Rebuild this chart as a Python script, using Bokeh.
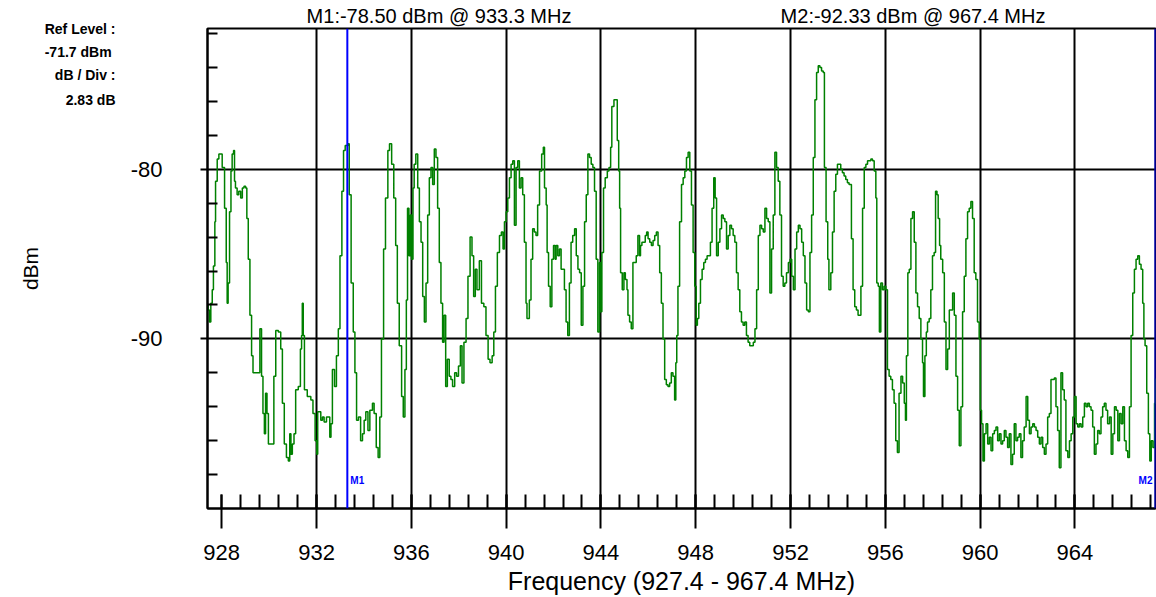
from bokeh.plotting import figure
from bokeh.models import Range1d, FixedTicker, Span, Label, LinearAxis
from bokeh.embed import file_html
from bokeh.resources import INLINE

# ---------------- data ----------------
ref_level_dbm = -71.7
db_per_div = 2.83
n_div = 10
freq_start_mhz = 927.4
freq_stop_mhz = 967.4

x_major_ticks = [928, 932, 936, 940, 944, 948, 952, 956, 960, 964]
x_grid_ticks = [932, 936, 940, 944, 948, 952, 956, 960, 964]
y_major_ticks = [-80, -90]
y_minor_ticks = [-72, -74, -76, -78, -82, -84, -86, -88, -92, -94, -96, -98]

marker_names = ["M1", "M2"]
marker_freq_mhz = [933.3, 967.4]
marker_level_dbm = [-78.50, -92.33]

freq_a = [
    927.40, 927.43, 927.48, 927.54, 927.60, 927.65, 927.71, 927.74, 927.81, 927.88,
    927.95, 928.02, 928.09, 928.12, 928.19, 928.23, 928.27, 928.33, 928.39, 928.44,
    928.50, 928.54, 928.58, 928.65, 928.72, 928.80, 928.87, 928.94, 929.01, 929.06,
    929.12, 929.19, 929.26, 929.32, 929.43, 929.54, 929.61, 929.68, 929.74, 929.80,
    929.85, 929.91, 929.97, 930.06, 930.13, 930.20, 930.28, 930.39, 930.49, 930.56,
    930.64, 930.73, 930.81, 930.87, 930.92, 930.98, 931.05, 931.12, 931.23, 931.32,
    931.37, 931.40, 931.44, 931.49, 931.61, 931.76, 931.85, 931.94, 932.01, 932.05,
    932.18, 932.25, 932.32, 932.42, 932.50, 932.56, 932.61, 932.67, 932.76, 932.84,
    932.92, 932.99, 933.07, 933.14, 933.21, 933.26, 933.33, 933.38, 933.46, 933.55,
    933.62, 933.69, 933.77, 933.86, 933.94, 934.01, 934.08, 934.17, 934.25, 934.36,
    934.43, 934.52, 934.60, 934.67, 934.74, 934.83, 934.91, 935.01, 935.08, 935.17,
    935.26, 935.34, 935.41, 935.49, 935.59, 935.66, 935.73, 935.79, 935.84, 935.90,
    935.96, 936.01, 936.07, 936.12, 936.19, 936.27, 936.34, 936.41, 936.48, 936.55,
    936.62, 936.69, 936.76, 936.83, 936.90, 936.97, 937.04, 937.11, 937.18, 937.25,
    937.32, 937.38, 937.45, 937.52, 937.60, 937.67, 937.74, 937.83, 937.91, 937.99,
    938.07, 938.14, 938.22, 938.31, 938.39, 938.48, 938.56, 938.63, 938.70, 938.77,
    938.87, 938.96, 939.06, 939.15, 939.24, 939.32, 939.41, 939.48, 939.55, 939.63,
    939.72, 939.80, 939.87, 939.93, 940.00, 940.07, 940.14, 940.21, 940.28, 940.35,
    940.42, 940.49, 940.56, 940.63, 940.70, 940.77,
]
level_a = [
    -88.0, -88.3, -89.0, -87.9, -87.1, -85.7, -83.1, -80.7, -79.4, -79.1,
    -79.1, -79.9, -79.9, -82.3, -85.5, -87.9, -86.7, -82.5, -80.1, -79.1,
    -78.9, -80.7, -81.1, -81.5, -81.3, -81.7, -81.1, -81.0, -81.1, -82.9,
    -85.3, -88.6, -91.0, -92.0, -92.0, -92.0, -89.4, -92.2, -94.4, -95.6,
    -93.2, -94.4, -96.2, -96.2, -96.2, -92.2, -89.5, -89.6, -90.6, -93.8,
    -96.2, -97.0, -97.2, -95.6, -96.8, -96.2, -95.6, -93.0, -92.8, -90.6,
    -89.8, -87.9, -89.8, -93.0, -93.4, -93.6, -94.4, -96.0, -96.8, -94.3,
    -94.8, -94.6, -94.9, -94.6, -94.6, -95.8, -95.0, -91.8, -92.8, -91.0,
    -89.4, -85.1, -81.3, -78.9, -78.6, -78.6, -78.5, -81.5, -86.7, -89.6,
    -92.0, -94.8, -94.6, -96.0, -95.6, -94.8, -94.3, -95.4, -94.2, -93.8,
    -94.4, -96.4, -97.0, -94.6, -90.0, -84.7, -81.7, -78.9, -78.5, -79.7,
    -81.7, -84.5, -87.9, -90.4, -93.4, -94.6, -91.8, -87.7, -82.3, -85.1,
    -82.7, -85.3, -81.1, -79.7, -79.1, -81.1, -83.1, -84.3, -87.5, -89.0,
    -86.7, -82.7, -80.5, -79.9, -80.9, -78.8, -79.3, -82.3, -85.5, -87.9,
    -90.2, -88.6, -92.8, -91.2, -92.2, -92.4, -92.8, -92.0, -92.2, -91.6,
    -90.4, -92.6, -90.2, -88.8, -86.3, -84.0, -85.1, -87.5, -85.9, -87.1,
    -85.4, -87.9, -88.1, -89.8, -91.2, -91.4, -91.0, -89.6, -86.9, -84.9,
    -83.9, -83.7, -84.7, -83.1, -82.5, -81.7, -80.5, -79.7, -79.5, -83.3,
    -79.9, -79.5, -81.1, -80.5, -81.5, -84.3,
]

freq_b = [
    940.84, 940.88, 940.94, 940.98, 941.05, 941.12, 941.19, 941.26, 941.33, 941.41,
    941.50, 941.57, 941.62, 941.69, 941.73, 941.79, 941.86, 941.93, 942.00, 942.07,
    942.11, 942.18, 942.25, 942.32, 942.39, 942.46, 942.53, 942.60, 942.67, 942.74,
    942.81, 942.89, 942.96, 943.03, 943.10, 943.17, 943.24, 943.31, 943.38, 943.45,
    943.52, 943.59, 943.66, 943.73, 943.80, 943.87, 943.94, 943.98, 944.04, 944.11,
    944.18, 944.27, 944.34, 944.41, 944.46, 944.55, 944.62, 944.69, 944.75, 944.79,
    944.83, 944.90, 944.97, 945.03, 945.10, 945.14, 945.21, 945.28, 945.35, 945.42,
    945.49, 945.56, 945.63, 945.67, 945.73, 945.82, 945.87, 945.93, 945.99, 946.06,
    946.13, 946.20, 946.27, 946.34, 946.41, 946.48, 946.55, 946.62, 946.69, 946.76,
    946.83, 946.90, 946.97, 947.04, 947.11, 947.16, 947.20, 947.25, 947.32, 947.40,
    947.47, 947.54, 947.61, 947.68, 947.75, 947.82, 947.89, 947.96, 948.02, 948.07,
    948.13, 948.20, 948.27, 948.34, 948.41, 948.48, 948.55, 948.62, 948.69, 948.76,
    948.82, 948.88, 948.95, 949.02, 949.09, 949.16, 949.23, 949.30, 949.37, 949.44,
    949.51, 949.58, 949.65, 949.72, 949.79, 949.86, 949.93, 950.00, 950.07, 950.14,
    950.21, 950.28, 950.36, 950.43, 950.50, 950.57, 950.64, 950.71, 950.78, 950.85,
    950.92, 950.99, 951.06, 951.13, 951.20, 951.27, 951.34, 951.41, 951.48, 951.55,
    951.62, 951.69, 951.76, 951.83, 951.91, 951.98, 952.05, 952.12, 952.19, 952.26,
    952.33, 952.40, 952.47, 952.54, 952.61, 952.68, 952.75, 952.82, 952.89, 952.96,
    953.03, 953.10, 953.17, 953.24, 953.31, 953.38, 953.43, 953.50, 953.57, 953.62,
    953.70, 953.77, 953.84, 953.91, 953.98,
]
level_b = [
    -87.9, -88.8, -88.8, -87.7, -85.3, -83.5, -83.7, -83.9, -82.1, -80.1,
    -79.1, -78.7, -81.1, -82.1, -84.9, -86.9, -88.1, -85.3, -84.5, -85.3,
    -84.5, -85.1, -84.7, -85.9, -85.9, -87.1, -89.0, -89.8, -86.7, -84.3,
    -83.9, -83.5, -85.1, -85.9, -86.1, -89.2, -86.9, -83.1, -81.5, -79.1,
    -79.3, -79.7, -79.9, -81.3, -85.3, -89.6, -85.5, -88.4, -84.9, -81.1,
    -80.5, -80.1, -79.9, -78.7, -76.3, -75.9, -75.9, -78.3, -80.1, -82.3,
    -86.1, -87.1, -86.1, -86.5, -87.1, -88.6, -89.0, -89.4, -85.5, -85.5,
    -85.1, -83.9, -85.1, -84.5, -84.3, -84.3, -83.9, -83.7, -84.1, -84.3,
    -84.5, -84.2, -83.9, -83.7, -84.5, -86.1, -87.9, -90.0, -92.4, -92.7,
    -92.8, -92.6, -92.0, -92.2, -93.6, -91.4, -89.8, -86.9, -83.1, -80.9,
    -80.5, -80.1, -79.3, -79.0, -80.1, -82.1, -84.9, -86.9, -89.2, -88.8,
    -87.9, -86.5, -85.9, -85.5, -85.3, -85.1, -85.1, -84.3, -82.3, -80.5,
    -81.7, -85.1, -84.3, -83.5, -82.7, -82.9, -83.1, -84.7, -83.9, -83.3,
    -83.5, -83.9, -84.3, -86.1, -87.1, -88.4, -89.0, -89.2, -89.0, -89.8,
    -90.2, -90.4, -90.4, -90.2, -89.4, -87.1, -83.9, -83.3, -83.5, -83.7,
    -82.3, -82.9, -83.1, -87.3, -84.7, -82.7, -79.0, -79.9, -80.7, -82.7,
    -86.3, -86.9, -86.7, -86.1, -85.5, -85.3, -86.3, -87.1, -84.7, -83.7,
    -83.3, -83.5, -84.3, -85.1, -86.7, -88.3, -88.4, -84.9, -82.7, -79.3,
    -75.9, -74.3, -73.9, -74.0, -74.2, -74.3, -79.9, -83.1, -85.3, -87.1,
    -86.1, -83.7, -81.3, -80.3, -79.7,
]

freq_c = [
    954.12, 954.19, 954.26, 954.33, 954.40, 954.47, 954.54, 954.57, 954.64, 954.71,
    954.78, 954.85, 954.92, 954.97, 955.04, 955.11, 955.18, 955.25, 955.32, 955.39,
    955.46, 955.53, 955.60, 955.64, 955.70, 955.75, 955.81, 955.88, 955.95, 956.02,
    956.09, 956.16, 956.23, 956.30, 956.37, 956.44, 956.51, 956.58, 956.66, 956.73,
    956.80, 956.85, 956.89, 956.95, 957.01, 957.08, 957.15, 957.22, 957.29, 957.36,
    957.43, 957.50, 957.57, 957.61, 957.67, 957.73, 957.78, 957.85, 957.92, 957.99,
    958.06, 958.12, 958.18, 958.23, 958.29, 958.34, 958.42, 958.49, 958.56, 958.63,
    958.70, 958.77, 958.84, 958.91, 958.98, 959.05, 959.12, 959.19, 959.26, 959.33,
    959.40, 959.47, 959.54, 959.61, 959.68, 959.75, 959.82, 959.89, 959.96, 960.01,
    960.06, 960.12, 960.18, 960.25, 960.32, 960.39, 960.46, 960.53, 960.60, 960.67,
    960.74, 960.81, 960.88, 960.95, 961.02, 961.09, 961.16, 961.23, 961.30, 961.37,
    961.44, 961.51, 961.58, 961.65, 961.72, 961.79, 961.86, 961.94, 962.01, 962.08,
    962.15, 962.22, 962.29, 962.36, 962.43, 962.50, 962.57, 962.64, 962.71, 962.78,
    962.85, 962.92, 962.99, 963.06, 963.13, 963.20, 963.27, 963.34, 963.41, 963.48,
    963.55, 963.62, 963.70, 963.77, 963.84, 963.91, 963.98, 964.05, 964.12, 964.19,
    964.26, 964.33, 964.40, 964.47, 964.54, 964.61, 964.68, 964.75, 964.82, 964.89,
    964.96, 965.03, 965.10, 965.17, 965.24, 965.31, 965.38, 965.46, 965.53, 965.60,
    965.67, 965.74, 965.81, 965.88, 965.95, 966.02, 966.09, 966.16, 966.23, 966.30,
    966.37, 966.44, 966.51, 966.58, 966.65, 966.72, 966.79, 966.86, 966.91, 966.96,
    967.03, 967.10, 967.16, 967.22, 967.29, 967.36, 967.40,
]
level_c = [
    -80.0, -80.2, -80.4, -80.6, -80.8, -80.9, -80.9, -84.1, -87.1, -88.1,
    -88.3, -88.6, -88.6, -86.9, -82.3, -79.9, -79.7, -79.5, -79.5, -79.4,
    -79.5, -80.1, -81.7, -86.7, -86.9, -89.6, -86.7, -87.1, -86.9, -87.1,
    -91.8, -92.2, -92.4, -93.0, -93.8, -96.0, -96.7, -93.2, -92.2, -92.6,
    -93.8, -94.8, -91.0, -86.1, -85.9, -82.9, -82.5, -84.3, -87.3, -88.1,
    -88.8, -90.0, -91.4, -93.4, -91.0, -89.6, -89.0, -88.8, -87.1, -85.1,
    -84.9, -81.3, -81.5, -82.9, -84.5, -85.3, -86.1, -89.0, -91.8, -90.6,
    -88.3, -88.3, -87.3, -88.6, -92.2, -94.2, -96.3, -94.0, -88.4, -86.3,
    -84.1, -82.5, -82.3, -81.9, -82.9, -86.1, -86.5, -89.0, -90.0, -94.2,
    -95.0, -97.2, -95.6, -95.0, -96.2, -95.8, -96.6, -95.6, -95.4, -95.2,
    -96.0, -95.6, -96.2, -96.0, -95.4, -95.8, -96.4, -95.6, -97.4, -96.8,
    -95.0, -96.0, -95.8, -95.6, -97.0, -96.0, -95.2, -93.4, -94.8, -95.6,
    -95.2, -95.0, -95.2, -95.4, -95.8, -96.2, -95.8, -96.4, -96.8, -96.2,
    -94.6, -94.4, -92.4, -92.4, -92.3, -94.0, -95.4, -97.6, -92.0, -93.0,
    -93.6, -96.6, -97.0, -96.0, -95.6, -94.6, -93.4, -95.0, -95.2, -95.0,
    -95.2, -94.6, -93.8, -94.0, -93.8, -94.0, -94.2, -95.2, -96.8, -96.2,
    -95.4, -95.6, -94.6, -94.0, -93.8, -94.2, -95.0, -94.6, -96.8, -95.6,
    -94.0, -94.2, -96.0, -94.4, -95.0, -94.0, -96.0, -96.6, -97.0, -94.0,
    -89.8, -87.3, -85.9, -85.3, -85.1, -85.6, -85.9, -87.9, -90.0, -90.4,
    -93.2, -95.6, -97.2, -96.0, -96.4, -93.8, -92.33,
]

freq_mhz = freq_a + freq_b + freq_c
level_dbm = level_a + level_b + level_c
n = min(len(freq_mhz), len(level_dbm))
freq_mhz = freq_mhz[:n]
level_dbm = level_dbm[:n]

x_minor_ticks = [round(928 + 0.8 * k, 2) for k in range(50) if 928 + 0.8 * k <= freq_stop_mhz]

# ---------------- figure ----------------
FONT = "Liberation Sans"
y_bottom = ref_level_dbm - n_div * db_per_div

p = figure(width=1156, height=597,
           x_range=Range1d(freq_start_mhz, freq_stop_mhz),
           y_range=Range1d(y_bottom, ref_level_dbm),
           output_backend="svg", toolbar_location=None,
           min_border_left=207, min_border_right=1,
           min_border_top=28, min_border_bottom=89)
p.background_fill_color = "white"
p.border_fill_color = "white"
p.outline_line_color = "black"
p.outline_line_width = 2

# x axis (frequency)
xa = p.xaxis[0]
xa.ticker = FixedTicker(ticks=x_major_ticks, minor_ticks=x_minor_ticks)
xa.axis_line_color = "black"
xa.axis_line_width = 2
xa.major_tick_line_color = "black"
xa.major_tick_line_width = 2
xa.minor_tick_line_color = "black"
xa.minor_tick_line_width = 2
xa.major_tick_in = 14
xa.major_tick_out = 20
xa.minor_tick_in = 14
xa.minor_tick_out = 0
xa.major_label_text_font = FONT
xa.major_label_text_font_size = "22px"
xa.major_label_text_color = "black"
xa.major_label_standoff = 16
xa.axis_label = f"Frequency ({freq_start_mhz:.1f} - {freq_stop_mhz:.1f} MHz)"
xa.axis_label_text_font = FONT
xa.axis_label_text_font_size = "25px"
xa.axis_label_text_font_style = "normal"
xa.axis_label_text_color = "black"
xa.axis_label_standoff = 4

# y axis (level)
ya = p.yaxis[0]
ya.ticker = FixedTicker(ticks=y_major_ticks, minor_ticks=y_minor_ticks)
ya.major_label_overrides = {t: str(t) for t in y_major_ticks}
ya.axis_line_color = "black"
ya.axis_line_width = 2
ya.major_tick_line_color = "black"
ya.major_tick_line_width = 2
ya.minor_tick_line_color = "black"
ya.minor_tick_line_width = 2
ya.major_tick_in = 0
ya.major_tick_out = 7
ya.minor_tick_in = 10
ya.minor_tick_out = 0
ya.major_label_text_font = FONT
ya.major_label_text_font_size = "22px"
ya.major_label_text_color = "black"
ya.major_label_standoff = 38

# reference-level info block, as an extra left axis carrying only labels
info_lines = ["Ref Level :", f"{ref_level_dbm:.1f}  dBm", "dB / Div :", f"{db_per_div:.2f} dB"]
info_y = [-71.75, -73.09, -74.47, -75.92]
info_axis = LinearAxis(ticker=FixedTicker(ticks=info_y, minor_ticks=[]),
                       major_label_overrides={yy: t for yy, t in zip(info_y, info_lines)},
                       axis_line_color=None, major_tick_line_color=None, minor_tick_line_color=None,
                       major_tick_in=0, major_tick_out=0, minor_tick_in=0, minor_tick_out=0,
                       major_label_standoff=12,
                       major_label_text_font=FONT, major_label_text_font_size="14px",
                       major_label_text_font_style="bold", major_label_text_color="black",
                       axis_label="dBm", axis_label_standoff=0,
                       axis_label_text_font=FONT, axis_label_text_font_size="21px",
                       axis_label_text_font_style="normal", axis_label_text_color="black")
p.add_layout(info_axis, "left")

# marker readouts above the frame, as a label-only top axis
title_x = [937.17, 957.17]
title_text = [f"{nm}:{lv:.2f} dBm @ {f:.1f} MHz"
              for nm, f, lv in zip(marker_names, marker_freq_mhz, marker_level_dbm)]
top_axis = LinearAxis(ticker=FixedTicker(ticks=title_x, minor_ticks=[]),
                      major_label_overrides={tx: t for tx, t in zip(title_x, title_text)},
                      axis_line_color=None, major_tick_line_color=None, minor_tick_line_color=None,
                      major_tick_in=0, major_tick_out=0, minor_tick_in=0, minor_tick_out=0,
                      major_label_standoff=2,
                      major_label_text_font=FONT, major_label_text_font_size="20px",
                      major_label_text_color="black")
p.add_layout(top_axis, "above")

# grid
p.xgrid.ticker = FixedTicker(ticks=x_grid_ticks)
p.ygrid.ticker = FixedTicker(ticks=y_major_ticks)
for g in (p.xgrid[0], p.ygrid[0]):
    g.grid_line_color = "black"
    g.grid_line_width = 2
    g.grid_line_alpha = 1.0

# trace
p.step(freq_mhz, level_dbm, mode="after", line_color="#008000", line_width=1.5)

# markers
for name, f in zip(marker_names, marker_freq_mhz):
    p.add_layout(Span(location=f, dimension="height", line_color="#0000ff", line_width=2, level="overlay"))
    right_edge = f >= freq_stop_mhz - 0.01
    p.add_layout(Label(x=f, y=-98.35, text=name,
                       x_offset=-3 if right_edge else 3,
                       text_align="right" if right_edge else "left",
                       text_baseline="middle",
                       text_font=FONT, text_font_size="10px", text_font_style="bold",
                       text_color="#0000ff"))

open("out.html", "w").write(file_html(p, INLINE))
